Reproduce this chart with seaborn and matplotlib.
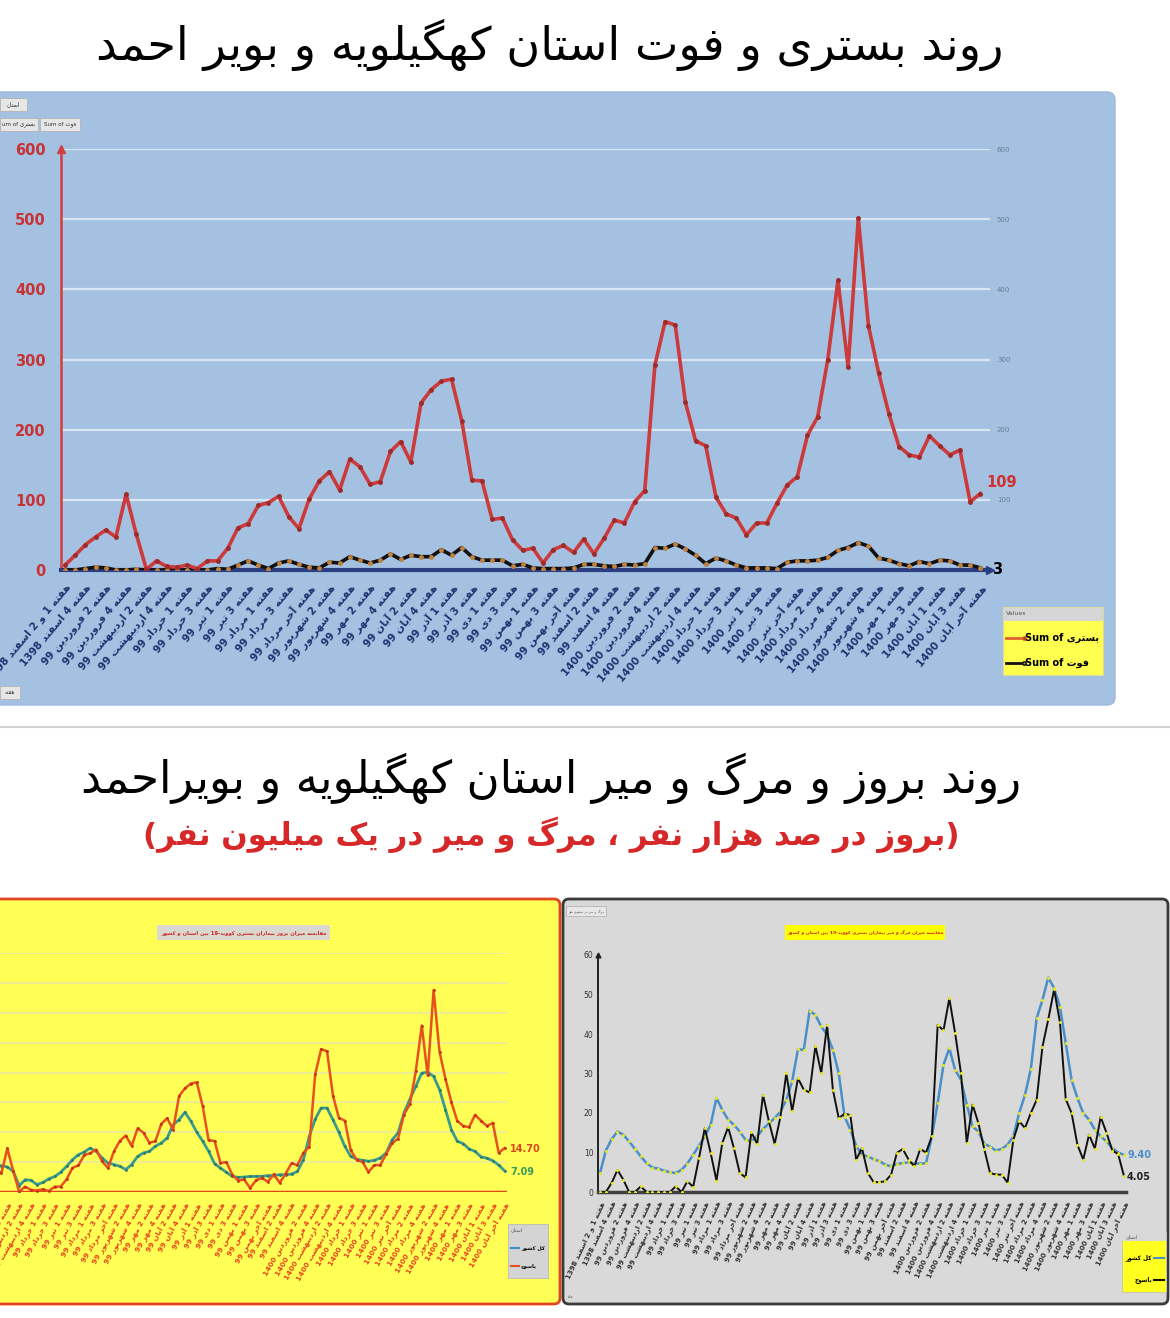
"""Weekly hospitalisation / death trends, Kohgiluyeh and Boyer-Ahmad."""
import re

import matplotlib
matplotlib.use("Agg")
import matplotlib.pyplot as plt
from matplotlib.patches import FancyBboxPatch, Rectangle
from matplotlib.lines import Line2D
import numpy as np
import seaborn as sns

W, H = 1170, 1318

TITLE_TOP = "روند بستری و فوت استان کهگیلویه و بویر احمد"
TITLE_BOTTOM = "روند بروز و مرگ و میر استان کهگیلویه و بویراحمد"
SUBTITLE = "بروز در صد هزار نفر ، مرگ و میر در یک میلیون نفر"
TITLE_INC = "مقایسه میزان بروز بیماران بستری کووید-19 بین استان و کشور"
TITLE_MORT = "مقایسه میزان مرگ و میر بیماران بستری کووید-19 بین استان و کشور"

WEEK_LABELS = [
    "هفته 1 و 2 اسفند 1398", "هفته 4 اسفند 1398", "هفته 2 فروردین 99", "هفته 4 فروردین 99",
    "هفته 2 اردیبهشت 99", "هفته 4 اردیبهشت 99", "هفته 1 خرداد 99", "هفته 3 خرداد 99",
    "هفته 1 تیر 99", "هفته 3 تیر 99", "هفته 1 مرداد 99", "هفته 3 مرداد 99",
    "هفته آخر مرداد 99", "هفته 2 شهریور 99", "هفته 4 شهریور 99", "هفته 2 مهر 99",
    "هفته 4 مهر 99", "هفته 2 آبان 99", "هفته 4 آبان 99", "هفته 1 آذر 99",
    "هفته 3 آذر 99", "هفته 1 دی 99", "هفته 3 دی 99", "هفته 1 بهمن 99",
    "هفته 3 بهمن 99", "هفته آخر بهمن 99", "هفته 2 اسفند 99", "هفته 4 اسفند 99",
    "هفته 2 فروردین 1400", "هفته 4 فروردین 1400", "هفته 2 اردیبهشت 1400", "هفته 4 اردیبهشت 1400",
    "هفته 1 خرداد 1400", "هفته 3 خرداد 1400", "هفته 1 تیر 1400", "هفته 3 تیر 1400",
    "هفته آخر تیر 1400", "هفته 2 مرداد 1400", "هفته 4 مرداد 1400", "هفته 2 شهریور 1400",
    "هفته 4 شهریور 1400", "هفته 1 مهر 1400", "هفته 3 مهر 1400", "هفته 1 آبان 1400",
    "هفته 3 آبان 1400", "هفته آخر آبان 1400",
]

# top chart: weekly counts (بستری / فوت)
HOSP = [7, 21, 36, 47, 57, 47, 108, 51, 1, 13, 5, 4, 7, 2, 13, 13, 31, 60, 66, 92,
        96, 105, 76, 59, 101, 127, 140, 114, 158, 147, 122, 126, 169, 183, 154, 238, 257, 269, 272, 213,
        128, 127, 72, 74, 43, 28, 31, 10, 29, 35, 25, 44, 23, 45, 71, 67, 97, 113, 292, 354,
        349, 239, 184, 177, 104, 80, 74, 50, 67, 67, 95, 121, 133, 192, 218, 300, 413, 289, 501, 348,
        281, 223, 176, 164, 161, 191, 177, 164, 171, 97, 109]
DEATH = [0, 0, 2, 4, 3, 0, 0, 1, 0, 0, 0, 0, 0, 0, 0, 2, 1, 7, 13, 7,
         2, 10, 13, 8, 4, 3, 11, 10, 19, 14, 10, 14, 23, 15, 21, 19, 19, 29, 21, 32,
         19, 14, 14, 14, 6, 8, 3, 2, 2, 2, 3, 8, 8, 6, 5, 8, 7, 9, 32, 31,
         37, 30, 21, 9, 17, 13, 7, 3, 3, 3, 2, 11, 13, 13, 14, 18, 28, 32, 39, 34,
         17, 14, 9, 6, 12, 9, 14, 13, 7, 7, 3]

# bottom-left: hospitalised incidence per 100k (country / Yasuj)
INC_COUNTRY = [2.0, 4.0, 6.5, 8.0, 9.0, 8.8, 8.4, 6.9, 2.1, 4.1, 3.9, 2.5, 3.2, 4.4, 5.2, 6.6, 8.6, 10.8, 12.5, 13.4,
               14.7, 13.6, 11.4, 9.7, 9.2, 8.6, 7.5, 9.2, 11.9, 13.1, 13.6, 15.3, 16.4, 18.1, 22.5, 24.2, 26.7, 23.7, 20.0, 17.0,
               13.6, 9.5, 8.0, 6.6, 5.2, 4.9, 5.0, 5.2, 5.2, 5.2, 5.5, 5.5, 5.8, 5.8, 6.0, 6.9, 10.8, 18.6, 24.4, 28.1,
               28.1, 24.2, 20.0, 15.3, 11.9, 11.0, 10.6, 10.3, 10.6, 11.4, 13.1, 17.5, 19.8, 26.5, 31.1, 35.4, 39.8, 40.1, 38.7, 34.3,
               27.6, 20.9, 17.0, 16.2, 14.4, 13.6, 11.8, 11.3, 10.5, 9.0, 7.09]
INC_YASUJ = [0.9, 2.8, 4.9, 6.3, 7.7, 6.3, 14.6, 6.9, 0.1, 1.8, 0.7, 0.5, 0.9, 0.3, 1.8, 1.8, 4.2, 8.1, 8.9, 12.4,
             13.0, 14.2, 10.3, 8.0, 13.6, 17.1, 18.9, 15.4, 21.3, 19.8, 16.5, 17.0, 22.8, 24.7, 20.8, 32.1, 34.7, 36.3, 36.7, 28.7,
             17.3, 17.1, 9.7, 10.0, 5.8, 3.8, 4.2, 1.3, 3.9, 4.7, 3.4, 5.9, 3.1, 6.1, 9.6, 9.0, 13.1, 15.2, 39.4, 47.8,
             47.1, 32.3, 24.8, 23.9, 14.0, 10.8, 10.0, 6.7, 9.0, 9.0, 12.8, 16.3, 17.9, 25.9, 29.4, 40.5, 55.7, 39.0, 67.6, 47.0,
             37.9, 30.1, 23.8, 22.1, 21.7, 25.8, 23.9, 22.1, 23.1, 13.1, 14.70]

# bottom-right: deaths per million (country / Yasuj)
MORT_COUNTRY = [4.8, 10.5, 13.4, 15.3, 14.5, 12.8, 10.9, 9.0, 7.3, 6.2, 5.9, 5.4, 5.0, 4.8, 5.6, 7.2, 9.4, 11.7, 14.1, 17.0,
                23.8, 20.8, 18.3, 17.0, 15.3, 13.2, 12.8, 14.2, 15.9, 17.4, 18.7, 20.4, 23.3, 28.0, 36.1, 36.0, 45.9, 44.8, 41.9, 39.8,
                36.0, 30.1, 19.1, 15.8, 11.7, 9.4, 9.0, 8.3, 7.8, 6.9, 6.5, 7.1, 7.3, 7.5, 7.2, 7.2, 7.3, 14.1, 22.5, 32.2,
                36.4, 30.9, 28.4, 22.1, 16.6, 15.3, 12.2, 11.5, 10.5, 10.9, 12.0, 14.1, 20.0, 24.6, 31.1, 44.0, 48.6, 54.3, 51.6, 46.9,
                37.7, 28.4, 23.8, 20.0, 18.3, 15.8, 14.1, 12.8, 11.1, 10.0, 9.40]
MORT_YASUJ = [0, 0, 2.3, 5.6, 3.1, 0, 0, 1.4, 0, 0, 0, 0, 0, 1.4, 0, 2.7, 1.3, 8.6, 16.2, 9.9,
              2.9, 12.4, 16.4, 11.1, 4.8, 3.7, 15.1, 12.2, 24.6, 17.9, 12.2, 19.1, 30.1, 20.4, 28.8, 25.9, 25.2, 37.0, 30.1, 42.3,
              25.9, 18.7, 19.8, 19.5, 8.2, 11.1, 4.8, 2.5, 2.5, 2.7, 4.4, 9.9, 10.9, 8.2, 6.5, 10.9, 10.0, 14.1, 42.3, 40.9,
              49.0, 40.2, 30.1, 12.4, 22.1, 17.4, 10.9, 4.8, 4.4, 4.4, 2.4, 13.2, 17.9, 16.2, 20.0, 23.3, 36.8, 43.7, 51.3, 43.0,
              23.5, 20.0, 12.0, 8.2, 14.5, 11.0, 19.0, 15.0, 10.5, 9.6, 4.05]

# --- minimal persian shaping (matplotlib draws glyphs unjoined, left to right) ---
FORMS = {
    "ا": ("\uFE8D", "\uFE8E", None, None), "آ": ("\uFE81", "\uFE82", None, None),
    "ب": ("\uFE8F", "\uFE90", "\uFE91", "\uFE92"), "پ": ("\uFB56", "\uFB57", "\uFB58", "\uFB59"),
    "ت": ("\uFE95", "\uFE96", "\uFE97", "\uFE98"), "ث": ("\uFE99", "\uFE9A", "\uFE9B", "\uFE9C"),
    "ج": ("\uFE9D", "\uFE9E", "\uFE9F", "\uFEA0"), "چ": ("\uFB7A", "\uFB7B", "\uFB7C", "\uFB7D"),
    "ح": ("\uFEA1", "\uFEA2", "\uFEA3", "\uFEA4"), "خ": ("\uFEA5", "\uFEA6", "\uFEA7", "\uFEA8"),
    "د": ("\uFEA9", "\uFEAA", None, None), "ذ": ("\uFEAB", "\uFEAC", None, None),
    "ر": ("\uFEAD", "\uFEAE", None, None), "ز": ("\uFEAF", "\uFEB0", None, None),
    "ژ": ("\uFB8A", "\uFB8B", None, None),
    "س": ("\uFEB1", "\uFEB2", "\uFEB3", "\uFEB4"), "ش": ("\uFEB5", "\uFEB6", "\uFEB7", "\uFEB8"),
    "ص": ("\uFEB9", "\uFEBA", "\uFEBB", "\uFEBC"), "ض": ("\uFEBD", "\uFEBE", "\uFEBF", "\uFEC0"),
    "ط": ("\uFEC1", "\uFEC2", "\uFEC3", "\uFEC4"), "ظ": ("\uFEC5", "\uFEC6", "\uFEC7", "\uFEC8"),
    "ع": ("\uFEC9", "\uFECA", "\uFECB", "\uFECC"), "غ": ("\uFECD", "\uFECE", "\uFECF", "\uFED0"),
    "ف": ("\uFED1", "\uFED2", "\uFED3", "\uFED4"), "ق": ("\uFED5", "\uFED6", "\uFED7", "\uFED8"),
    "ک": ("\uFB8E", "\uFB8F", "\uFB90", "\uFB91"), "گ": ("\uFB92", "\uFB93", "\uFB94", "\uFB95"),
    "ل": ("\uFEDD", "\uFEDE", "\uFEDF", "\uFEE0"), "م": ("\uFEE1", "\uFEE2", "\uFEE3", "\uFEE4"),
    "ن": ("\uFEE5", "\uFEE6", "\uFEE7", "\uFEE8"), "و": ("\uFEED", "\uFEEE", None, None),
    "ه": ("\uFEE9", "\uFEEA", "\uFEEB", "\uFEEC"), "ی": ("\uFBFC", "\uFBFD", "\uFBFE", "\uFBFF"),
}


def shape_word(w):
    out = []
    for k, c in enumerate(w):
        f = FORMS.get(c)
        if f is None:
            out.append(c)
            continue
        prev = w[k - 1] if k > 0 else None
        nxt = w[k + 1] if k < len(w) - 1 else None
        jp = prev in FORMS and FORMS[prev][2] is not None
        jn = nxt in FORMS and f[2] is not None
        out.append(f[3] if jp and jn else f[1] if jp else f[2] if jn else f[0])
    return "".join(out)


def fa(s):
    toks = re.findall(r"[\u0621-\u064A\u067E-\u06CC]+|[0-9A-Za-z.]+|\s+|.", s)
    vis = [shape_word(t)[::-1] if re.match(r"[\u0621-\u064A\u067E-\u06CC]", t) else t for t in toks]
    return "".join(vis[::-1])


def px_axes(left, top, right, bottom):
    return fig.add_axes([left / W, 1 - bottom / H, (right - left) / W, (bottom - top) / H])


def fit(t, width):
    w = t.get_window_extent(fig.canvas.get_renderer()).width
    t.set_fontsize(t.get_fontsize() * width / w)


plt.rcParams["font.family"] = "DejaVu Sans"
fig = plt.figure(figsize=(W / 100, H / 100), dpi=100)
fig.patch.set_facecolor("white")

bg = fig.add_axes([0, 0, 1, 1])
bg.set_xlim(0, W)
bg.set_ylim(H, 0)
bg.axis("off")

idx = np.arange(len(HOSP))
tick_pos = list(range(0, len(HOSP), 2))

# ---------------- titles ----------------
t = bg.text(550, 45, fa(TITLE_TOP), ha="center", va="center", fontsize=30, color="black")
fit(t, 906)
bg.plot([0, W], [727, 727], color="#d2d2d2", lw=1.5)
t = bg.text(551, 778, fa(TITLE_BOTTOM), ha="center", va="center", fontsize=30, color="black")
fit(t, 938)
t = bg.text(551, 835, "(" + fa(SUBTITLE) + ")", ha="center", va="center", fontsize=26,
            color="#d62828", fontweight="bold")
fit(t, 818)

# ---------------- top chart ----------------
bg.add_patch(FancyBboxPatch((-10, 92), 1125, 613, boxstyle="round,pad=0,rounding_size=8",
                            fc="#a5c1e2", ec="#9bb7da", lw=1))
for x0, y0, w0, txt in [(0, 98, 27, fa("استان")), (0, 118, 38, "um of " + fa("بستری")),
                        (40, 118, 40, "Sum of " + fa("فوت")), (0, 686, 20, fa("هفته"))]:
    bg.add_patch(Rectangle((x0, y0), w0, 13, fc="#e6e6e6", ec="#b4b4b4", lw=0.6))
    bg.text(x0 + w0 / 2, y0 + 6.5, txt, ha="center", va="center", fontsize=4, color="#333333")

ax = px_axes(61, 149, 990, 570)
ax.set_facecolor("none")
for v in range(100, 601, 100):
    ax.axhline(v, color="#dbe6f3", lw=1.6, zorder=0)
sns.lineplot(x=idx, y=DEATH, ax=ax, color="#111111", lw=2.6, marker="o", markersize=3.5,
             markerfacecolor="#c08040", markeredgewidth=0, zorder=3)
sns.lineplot(x=idx, y=HOSP, ax=ax, color="#cc3b3b", lw=2.6, marker="o", markersize=3.5,
             markerfacecolor="#9e2a2a", markeredgewidth=0, zorder=4)
ax.set_xlim(-0.4, 90.95)
ax.set_ylim(0, 600)
ax.set_xlabel("")
ax.set_ylabel("")
for s in ["top", "right"]:
    ax.spines[s].set_visible(False)
ax.spines["left"].set_color("#d04040")
ax.spines["left"].set_linewidth(1.8)
ax.spines["bottom"].set_color("#2b3f80")
ax.spines["bottom"].set_linewidth(3)
ax.plot([-0.4], [600], marker="^", color="#d04040", ms=6, clip_on=False)
ax.plot([90.95], [0], marker=">", color="#2b3f80", ms=6, clip_on=False)
ax.set_yticks(range(0, 601, 100))
ax.tick_params(axis="y", length=0, pad=11, labelcolor="#c83232", labelsize=10.5)
for lbl in ax.get_yticklabels():
    lbl.set_fontweight("bold")
ax.set_xticks(tick_pos)
ax.set_xticklabels([fa(l) for l in WEEK_LABELS], rotation=50, ha="right", va="top",
                   rotation_mode="anchor", fontsize=7.5, fontweight="bold", color="#1f3270")
ax.tick_params(axis="x", length=0, pad=9)
ax.text(90.6, 124, "109", color="#d03030", fontweight="bold", fontsize=10.5, va="center", ha="left")
ax.text(91.2, 0, "3", color="black", fontweight="bold", fontsize=10.5, va="center", ha="left")
ax2 = ax.twinx()
ax2.set_ylim(0, 600)
ax2.set_yticks(range(100, 601, 100))
ax2.tick_params(axis="y", length=0, pad=5, labelsize=5, labelcolor="#6a7a90")
for s in ax2.spines.values():
    s.set_visible(False)

lg = px_axes(1003, 607, 1103, 675)
lg.set_xlim(0, 1)
lg.set_ylim(0, 1)
lg.set_xticks([])
lg.set_yticks([])
lg.set_facecolor("#ffff4f")
for s in lg.spines.values():
    s.set_color("#d8d8a0")
lg.add_patch(Rectangle((0, 0.8), 1, 0.2, fc="#d6d6d6", ec="none"))
lg.text(0.03, 0.9, "Values", fontsize=4.5, color="#555555", va="center")
lg.add_line(Line2D([0.03, 0.21], [0.55, 0.55], color="#e06030", lw=2, marker="o", ms=2.5,
                   markevery=[1], markerfacecolor="#9e2a2a"))
lg.add_line(Line2D([0.03, 0.21], [0.18, 0.18], color="#111111", lw=2, marker="o", ms=2.5,
                   markevery=[1], markerfacecolor="#c08040"))
t = lg.text(0.22, 0.55, "Sum of " + fa("بستری"), fontsize=8, fontweight="bold", va="center")
fit(t, 74)
lg.text(0.22, 0.18, "Sum of " + fa("فوت"), fontsize=t.get_fontsize(), fontweight="bold", va="center")

# ---------------- bottom-left: incidence ----------------
bg.add_patch(FancyBboxPatch((-10, 899), 570, 405, boxstyle="round,pad=0,rounding_size=6",
                            fc="#ffff55", ec="#e2461e", lw=2))
bg.add_patch(Rectangle((157, 925), 173, 15, fc="#d9d9cf", ec="none"))
t = bg.text(243.5, 932.5, fa(TITLE_INC), ha="center", va="center", fontsize=6,
            color="#cc2222", fontweight="bold")
fit(t, 166)

axl = px_axes(-40, 953, 507, 1192)
axl.set_facecolor("none")
for v in range(10, 81, 10):
    axl.axhline(v, color="#ecec9c", lw=1.3, zorder=0)
axl.axhline(0, color="#e2461e", lw=2.5, zorder=2)
sns.lineplot(x=idx, y=INC_COUNTRY, ax=axl, color="#3a9a8c", lw=2, marker="o", markersize=2,
             markerfacecolor="#2a7a70", markeredgewidth=0, zorder=3)
sns.lineplot(x=idx, y=INC_YASUJ, ax=axl, color="#e8501e", lw=1.8, marker="o", markersize=2,
             markerfacecolor="#c03010", markeredgewidth=0, zorder=4)
axl.set_xlim(-2.0, 90.4)
axl.set_ylim(0, 80)
axl.set_xlabel("")
axl.set_ylabel("")
axl.set_yticks([])
for s in axl.spines.values():
    s.set_visible(False)
axl.set_xticks(tick_pos)
axl.set_xticklabels([fa(l) for l in WEEK_LABELS], rotation=60, ha="right", va="top",
                    rotation_mode="anchor", fontsize=5.3, fontweight="bold", color="#e8461e")
axl.tick_params(axis="x", length=0, pad=7)
bg.text(510, 1149, "14.70", color="#e0461e", fontweight="bold", fontsize=7, va="center")
bg.text(510, 1172, "7.09", color="#3a9a60", fontweight="bold", fontsize=7, va="center")

bg.add_patch(Rectangle((508, 1224), 40, 54, fc="#d4d4d4", ec="#b8b8b8", lw=0.6))
bg.text(511, 1230, fa("استان"), fontsize=3.5, color="#555555", va="center")
bg.plot([511, 519], [1248, 1248], color="#3a8fc8", lw=1.5)
bg.plot([511, 519], [1266, 1266], color="#e8501e", lw=1.5)
t = bg.text(521, 1248, fa("کل کشور"), fontsize=5, fontweight="bold", va="center")
fit(t, 24)
bg.text(521, 1266, fa("یاسوج"), fontsize=t.get_fontsize(), fontweight="bold", va="center")

# ---------------- bottom-right: mortality ----------------
bg.add_patch(FancyBboxPatch((563, 899), 605, 405, boxstyle="round,pad=0,rounding_size=6",
                            fc="#d9d9d9", ec="#3a3a3a", lw=2))
bg.add_patch(Rectangle((785, 925), 160, 15, fc="#ffff00", ec="none"))
t = bg.text(865, 932.5, fa(TITLE_MORT), ha="center", va="center", fontsize=6,
            color="#cc2222", fontweight="bold")
fit(t, 154)
bg.add_patch(Rectangle((566, 906), 40, 10, fc="#e8e8e8", ec="#aaaaaa", lw=0.5))
bg.text(586, 911, fa("مرگ و میر در میلیون نفر"), fontsize=2.5, ha="center", va="center", color="#444444")

axr = px_axes(597.7, 955, 1126, 1192)
axr.set_facecolor("none")
sns.lineplot(x=idx, y=MORT_COUNTRY, ax=axr, color="#4a8fc8", lw=1.8, marker="o", markersize=2.2,
             markerfacecolor="#e8e820", markeredgewidth=0, zorder=3)
sns.lineplot(x=idx, y=MORT_YASUJ, ax=axr, color="#111111", lw=1.4, marker="o", markersize=2.2,
             markerfacecolor="#e8e820", markeredgewidth=0, zorder=4)
axr.set_xlim(-0.4, 90.35)
axr.set_ylim(0, 60)
axr.set_xlabel("")
axr.set_ylabel("")
for s in ["top", "right"]:
    axr.spines[s].set_visible(False)
axr.spines["left"].set_color("#222222")
axr.spines["left"].set_linewidth(1.4)
axr.spines["bottom"].set_color("#404040")
axr.spines["bottom"].set_linewidth(2.5)
axr.plot([-0.4], [60], marker="^", color="#222222", ms=3.5, clip_on=False)
axr.set_yticks(range(0, 61, 10))
axr.tick_params(axis="y", length=0, pad=3, labelsize=5.5, labelcolor="#333333")
axr.set_xticks(tick_pos)
axr.set_xticklabels([fa(l) for l in WEEK_LABELS], rotation=65, ha="right", va="top",
                    rotation_mode="anchor", fontsize=5, fontweight="bold", color="#333333")
axr.tick_params(axis="x", length=0, pad=6)
bg.text(1127, 1155, "9.40", color="#4a8fc8", fontweight="bold", fontsize=7, va="center")
bg.text(1127, 1177, "4.05", color="#222222", fontweight="bold", fontsize=7, va="center")

bg.add_patch(Rectangle((1122, 1232), 44, 60, fc="#ffff20", ec="#c0c0c0", lw=0.6))
bg.add_patch(Rectangle((1122, 1232), 44, 9, fc="#d8d8d8", ec="none"))
bg.text(1126, 1236.5, fa("استان"), fontsize=3.5, color="#555555", va="center")
t = bg.text(1152, 1258, fa("کل کشور"), fontsize=5, fontweight="bold", va="center", ha="right")
fit(t, 27)
bg.text(1152, 1280, fa("یاسوج"), fontsize=t.get_fontsize(), fontweight="bold", va="center", ha="right")
bg.plot([1154, 1164], [1258, 1258], color="#4a8fc8", lw=1.5)
bg.plot([1154, 1164], [1280, 1280], color="#111111", lw=1.5)
bg.text(568, 1297, fa("ماه"), fontsize=3, color="#444444", va="center")

fig.savefig("out.png", dpi=100, facecolor="white")
